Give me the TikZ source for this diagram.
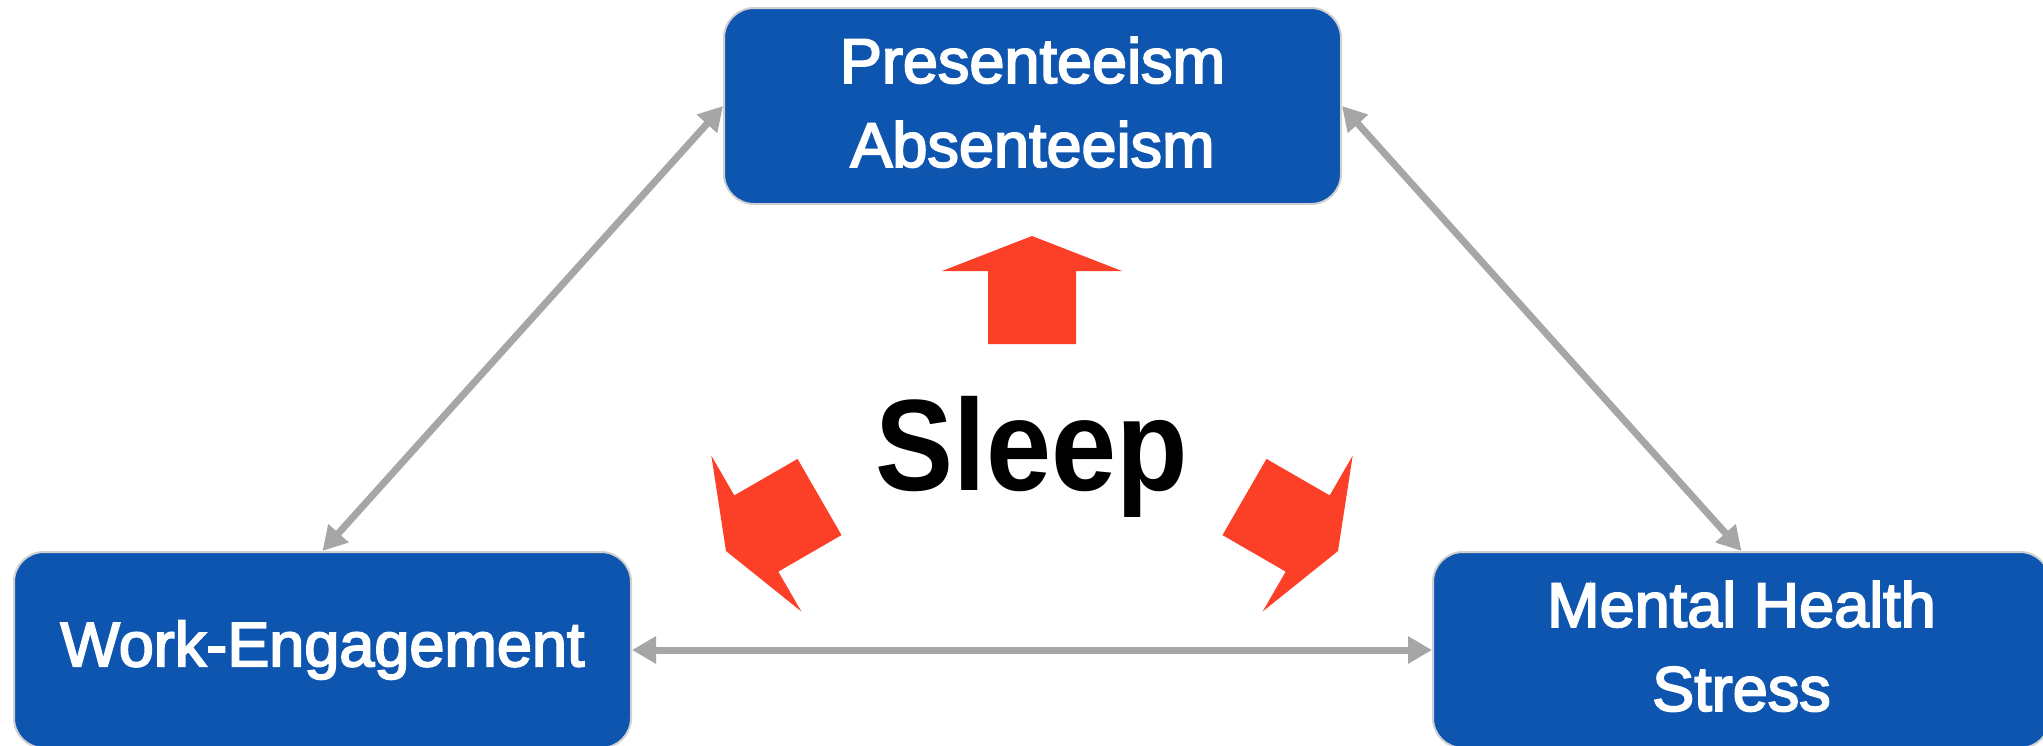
\documentclass[tikz,border=0pt]{standalone}
\usepackage{fontspec}
\setmainfont{Liberation Sans}
\newfontfamily\boxfont[FakeBold=3]{Liberation Sans}
\newfontfamily\sleepfont[FakeStretch=0.9]{Liberation Sans}
\usetikzlibrary{arrows.meta}
\definecolor{boxblue}{RGB}{14,85,176}
\definecolor{redarr}{RGB}{252,64,39}
\definecolor{grayarr}{RGB}{166,166,166}
\definecolor{boxedge}{RGB}{208,208,208}
\tikzset{
  sleeparrow/.pic={\fill[redarr] (0,0) -- (90,35) -- (44,35) -- (44,108) -- (-44,108) -- (-44,35) -- (-90,35) -- cycle;}
}
\begin{document}
\begin{tikzpicture}[x=1pt,y=-1pt,
  factor/.style={draw=boxedge, line width=2pt, fill=boxblue, rounded corners=30pt,
    minimum width=617pt, minimum height=196pt, text=white, align=center,
    font=\boxfont\fontsize{63}{84}\selectfont, inner sep=0pt},
  link/.style={draw=grayarr, line width=7pt,
    {Triangle[length=24pt,width=26pt]}-{Triangle[length=24pt,width=26pt]}}]
\useasboundingbox (0,0) rectangle (2043,745);

\node[factor, text depth=8pt] (top) at (1032.5,106) {Presenteeism\\Absenteeism};
\node[factor] (left) at (322.5,650) {Work-Engagement};
\node[factor, text depth=8pt] (right) at (1741.5,650) {Mental Health\\Stress};

\draw[link] (left.north) -- (top.west);
\draw[link] (top.east) -- (right.north);
\draw[link] (left.east) -- (right.west);

\node[font=\sleepfont\bfseries\fontsize{130}{130}\selectfont, anchor=base, inner sep=0pt] (sleep) at (1032,490) {Sleep};

\pic at (1032,236) {sleeparrow};
\pic[rotate=120] at (726,551) {sleeparrow};
\pic[rotate=-120] at (1338,551) {sleeparrow};
\end{tikzpicture}
\end{document}
